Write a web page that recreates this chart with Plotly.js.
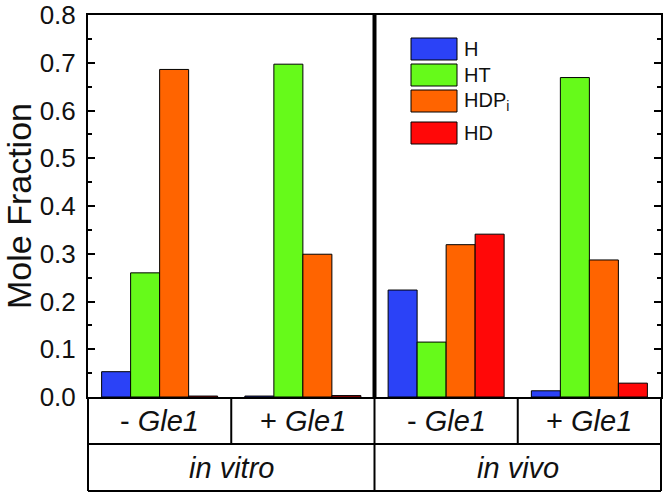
<!DOCTYPE html>
<html>
<head>
<meta charset="utf-8">
<script src="https://cdn.plot.ly/plotly-3.0.1.min.js"></script>
<style>
  html, body { margin: 0; padding: 0; background: #fff; }
  #chart { width: 666px; height: 493px; }
</style>
</head>
<body>
<div id="chart"></div>
<script>
// groups along x: inner label (Gle1 condition) and outer label (assay)
const innerLabels = ['- Gle1', '+ Gle1', '- Gle1', '+ Gle1'];
const outerLabels = ['in vitro', 'in vivo'];
const seriesNames = ['H', 'HT', 'HDP<sub>i</sub>', 'HD'];
const seriesColors = ['#2b42f7', '#66fa1a', '#ff6400', '#ff0808'];

// mole fraction
const valH    = [0.053, 0.002, 0.224, 0.013];
const valHT   = [0.260, 0.697, 0.115, 0.669];
const valHDPi = [0.686, 0.299, 0.319, 0.287];
const valHD   = [0.002, 0.003, 0.341, 0.029];
const allValues = [valH, valHT, valHDPi, valHD];

const xIdx = innerLabels.map((_, i) => i);

const traces = allValues.map((vals, k) => ({
    type: 'bar',
    x: xIdx,
    y: vals,
    name: seriesNames[k],
    marker: { color: seriesColors[k], line: { color: '#000', width: 1 } },
    showlegend: false,
    hoverinfo: 'skip'
}));

// table rows under the axis, in paper units (plot height 382px)
const row1 = -47 / 382;
const row2 = -94 / 382;
const FONT = 'Liberation Sans, Arial, sans-serif';

const shapes = [
    // thick divider inside the plot
    { type: 'line', xref: 'x', yref: 'paper', x0: 1.5, x1: 1.5, y0: 0, y1: 1, line: { color: '#000', width: 4 } },
    // table frame
    { type: 'line', xref: 'x', yref: 'paper', x0: 1.5, x1: 1.5, y0: row2, y1: 0, line: { color: '#000', width: 2 } },
    { type: 'line', xref: 'x', yref: 'paper', x0: 0.5, x1: 0.5, y0: row1, y1: 0, line: { color: '#000', width: 2 } },
    { type: 'line', xref: 'x', yref: 'paper', x0: 2.5, x1: 2.5, y0: row1, y1: 0, line: { color: '#000', width: 2 } },
    { type: 'line', xref: 'paper', yref: 'paper', x0: 0, x1: 0, y0: row2, y1: 0, line: { color: '#000', width: 2 } },
    { type: 'line', xref: 'paper', yref: 'paper', x0: 1, x1: 1, y0: row2, y1: 0, line: { color: '#000', width: 2 } },
    { type: 'line', xref: 'paper', yref: 'paper', x0: 0, x1: 1, y0: row1, y1: row1, line: { color: '#000', width: 2 } },
    { type: 'line', xref: 'paper', yref: 'paper', x0: 0, x1: 1, y0: row2, y1: row2, line: { color: '#000', width: 2 } }
];

const annotations = [];
innerLabels.forEach((lab, i) => {
    const parts = lab.split(' ');
    annotations.push({
        xref: 'x', yref: 'paper', x: i, y: row1 / 2,
        text: parts[0] + ' <i>' + parts[1] + '</i>',
        showarrow: false, xanchor: 'center', yanchor: 'middle',
        font: { family: FONT, size: 29, color: '#111' }
    });
});
outerLabels.forEach((lab, j) => {
    annotations.push({
        xref: 'x', yref: 'paper', x: 2 * j + 0.5, y: (row1 + row2) / 2,
        text: '<i>' + lab + '</i>',
        showarrow: false, xanchor: 'center', yanchor: 'middle',
        font: { family: FONT, size: 29, color: '#111' }
    });
});

// hand-drawn legend with big swatches like the original
const legTop = [38, 64, 90, 122];
seriesNames.forEach((nm, k) => {
    const y1 = (397 - legTop[k]) / 382;
    const y0 = (397 - legTop[k] - 22) / 382;
    shapes.push({
        type: 'rect', xref: 'paper', yref: 'paper',
        x0: (411 - 88) / 573, x1: (457 - 88) / 573, y0: y0, y1: y1,
        fillcolor: seriesColors[k], line: { color: '#000', width: 1 }
    });
    annotations.push({
        xref: 'paper', yref: 'paper', x: (462 - 88) / 573, y: (y0 + y1) / 2,
        text: nm, showarrow: false, xanchor: 'left', yanchor: 'middle',
        font: { family: FONT, size: 20, color: '#111' }
    });
});

const layout = {
    width: 666,
    height: 493,
    margin: { l: 88, r: 5, t: 15, b: 96 },
    paper_bgcolor: '#fff',
    plot_bgcolor: '#fff',
    barmode: 'group',
    bargap: 0.19,
    bargroupgap: 0,
    font: { family: FONT, color: '#111' },
    xaxis: {
        range: [-0.5, 3.5],
        showticklabels: false,
        ticks: '',
        showgrid: false,
        zeroline: false,
        showline: true,
        linecolor: '#000',
        linewidth: 2,
        mirror: true,
        fixedrange: true
    },
    yaxis: {
        range: [0, 0.8],
        dtick: 0.1,
        tickformat: '.1f',
        ticks: 'inside',
        ticklen: 7,
        tickwidth: 2,
        tickcolor: '#000',
        minor: { dtick: 0.05, ticks: 'inside', ticklen: 4, tickwidth: 2, tickcolor: '#000' },
        showgrid: false,
        zeroline: false,
        showline: true,
        linecolor: '#000',
        linewidth: 2,
        mirror: 'ticks',
        tickfont: { size: 26, color: '#111' },
        ticklabelstandoff: 5,
        title: { text: 'Mole Fraction', font: { size: 34, color: '#111' }, standoff: 4 },
        fixedrange: true
    },
    shapes: shapes,
    annotations: annotations,
    showlegend: false
};

Plotly.newPlot('chart', traces, layout, { displayModeBar: false, staticPlot: true });
</script>
</body>
</html>
